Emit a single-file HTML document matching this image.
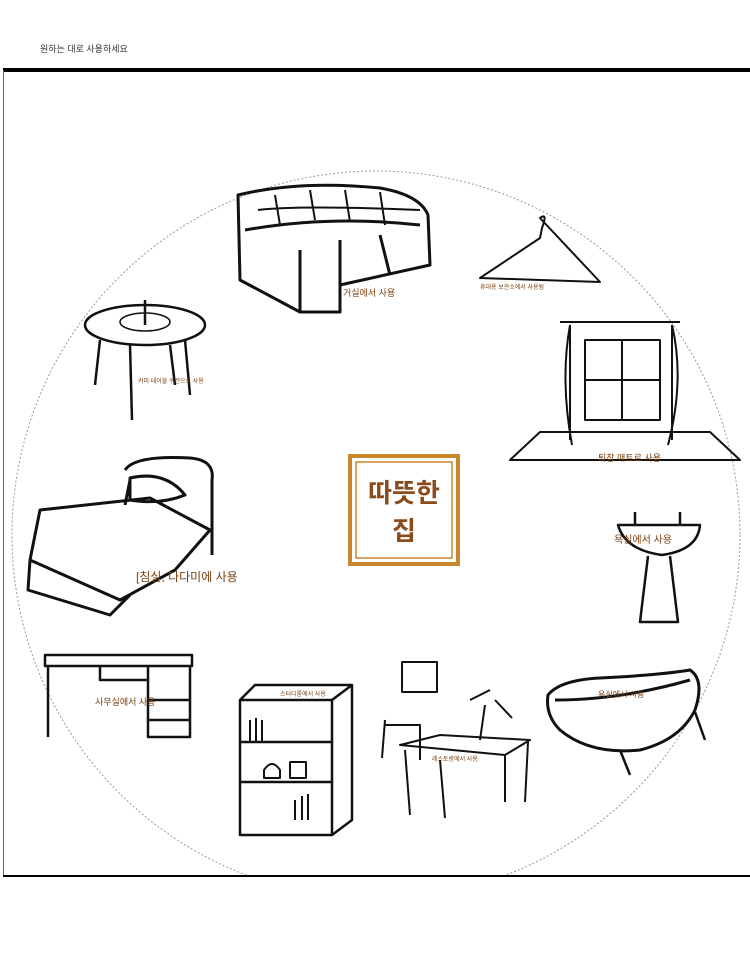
<!DOCTYPE html>
<html><head><meta charset="utf-8"><style>
body{margin:0;background:#fff;width:750px;height:960px;overflow:hidden;font-family:"Liberation Sans","Noto Sans CJK KR",sans-serif}
svg{position:absolute;left:0;top:0}
</style></head><body>
<svg width="750" height="960" viewBox="0 0 750 960" font-family="Liberation Sans, Noto Sans CJK KR, sans-serif">
<text x="40" y="52" font-size="9" fill="#333">원하는 대로 사용하세요</text>
<rect x="3" y="68" width="747" height="4" fill="#000"/>
<line x1="3.5" y1="70" x2="3.5" y2="876" stroke="#666" stroke-width="1"/>
<line x1="3" y1="876" x2="750" y2="876" stroke="#000" stroke-width="2"/>
<clipPath id="c"><rect x="0" y="72" width="750" height="803"/></clipPath>
<circle cx="376" cy="535" r="364" fill="none" stroke="#999" stroke-dasharray="2,2" clip-path="url(#c)"/>
<g fill="none" stroke="#111" stroke-width="3" stroke-linejoin="round">
<!-- sofa -->
<path d="M238 195 Q300 180 380 188 Q420 195 428 215 L430 265 L340 285 L340 312 L300 312 L240 280 Z"/>
<path d="M245 230 Q330 215 420 225 M300 250 L300 312 M340 240 L340 285 M380 235 L390 275"/>
<path stroke-width="2" d="M275 195 L280 225 M310 190 L315 220 M345 190 L350 222 M380 192 L385 225 M258 210 Q300 205 420 210"/>
<!-- hanger -->
<path stroke-width="2" d="M540 218 Q548 212 542 228 L540 238 L480 278 L600 282 Z"/>
<!-- window/curtain -->
<path stroke-width="2" d="M560 322 L680 322 M570 325 L570 440 M672 325 L672 440 M585 340 L660 340 L660 420 L585 420 Z M585 380 L660 380 M622 340 L622 420 M510 460 L540 432 L710 432 L740 460 Z"/>
<path stroke-width="2" d="M570 325 Q560 380 572 445 M672 325 Q685 380 668 445"/>
<!-- coffee table -->
<ellipse cx="145" cy="325" rx="60" ry="20" stroke-width="2.5"/>
<ellipse cx="145" cy="322" rx="25" ry="9" stroke-width="1.5"/>
<path stroke-width="2.5" d="M100 340 L95 385 M130 345 L132 420 M185 340 L190 395 M170 345 L175 385 M145 300 L145 325"/>
<!-- bed -->
<path d="M125 470 Q135 455 190 458 Q215 460 212 480 L212 555 M130 480 L125 505 M40 510 L150 498 L210 530 L175 570 L120 600 L30 560 Z M30 560 L28 590 L110 615 L130 595 M130 478 Q165 470 185 495 Q160 505 130 500 Z"/>
<!-- sink -->
<path stroke-width="2.5" d="M618 525 Q660 525 700 525 Q698 550 662 555 Q625 550 618 525 Z M648 556 L640 622 L678 622 L670 556 M635 512 L635 525 M680 512 L680 525"/>
<!-- desk -->
<path stroke-width="2.5" d="M45 655 L192 655 L192 666 L45 666 Z M48 666 L48 737 M100 666 L100 680 L148 680 L148 666 M148 680 L148 737 L190 737 L190 666 M148 700 L190 700 M148 720 L190 720"/>
<!-- bookshelf -->
<path stroke-width="2.5" d="M240 700 L255 685 L352 685 L352 820 L332 835 L240 835 Z M240 700 L332 700 L332 835 M240 742 L332 742 M240 782 L332 782 M332 700 L352 685"/>
<path stroke-width="2" d="M250 720 L250 742 M256 718 L256 742 M262 720 L262 742 M295 800 L295 820 M302 796 L302 820 M308 794 L308 820 M290 762 L306 762 L306 778 L290 778 Z M264 770 Q272 758 280 770 L280 778 L264 778 Z"/>
<!-- chair/table -->
<path stroke-width="2" d="M402 662 L437 662 L437 692 L402 692 Z M385 725 L420 725 L420 760 M385 720 L382 758 M400 745 L440 735 L530 740 L505 755 Z M405 750 L410 815 M440 760 L445 818 M505 755 L505 802 M528 742 L525 802"/>
<path stroke-width="2" d="M480 740 L485 705 M470 700 L490 690 M495 700 L512 718"/>
<!-- bathtub -->
<path d="M548 695 Q560 680 600 678 Q660 675 690 670 Q705 680 695 710 Q680 740 640 750 Q590 755 560 730 Q545 715 548 695 Z M555 700 Q620 700 690 680"/>
<path stroke-width="2.5" d="M620 750 L630 775 M695 712 L705 740"/>
</g>
<g fill="#7a3f0e">
<text x="343" y="296" font-size="9">거실에서 사용</text>
<text x="480" y="289" font-size="6">휴대용 보관소에서 사용됨</text>
<text x="598" y="461" font-size="9">퇴창 매트로 사용</text>
<text x="138" y="383" font-size="6">커피 테이블 쿠션으로 사용</text>
<text x="136" y="581" font-size="12">[침실, 다다미에 사용</text>
<text x="614" y="543" font-size="10">욕실에서 사용</text>
<text x="95" y="705" font-size="9">사무실에서 사용</text>
<text x="280" y="696" font-size="6">스터디룸에서 사용</text>
<text x="432" y="761" font-size="6">레스토랑에서 사용</text>
<text x="598" y="697" font-size="8">욕실에서 사용</text>
</g>
<rect x="350" y="456" width="108" height="108" fill="#fff" stroke="#c8862e" stroke-width="4"/>
<rect x="356" y="462" width="96" height="96" fill="none" stroke="#c8862e" stroke-width="1.5"/>
<text x="404" y="502" font-size="26" fill="#8a4c1c" text-anchor="middle" font-weight="bold">따뜻한</text>
<text x="404" y="540" font-size="26" fill="#8a4c1c" text-anchor="middle" font-weight="bold">집</text>
</svg>
</body></html>
